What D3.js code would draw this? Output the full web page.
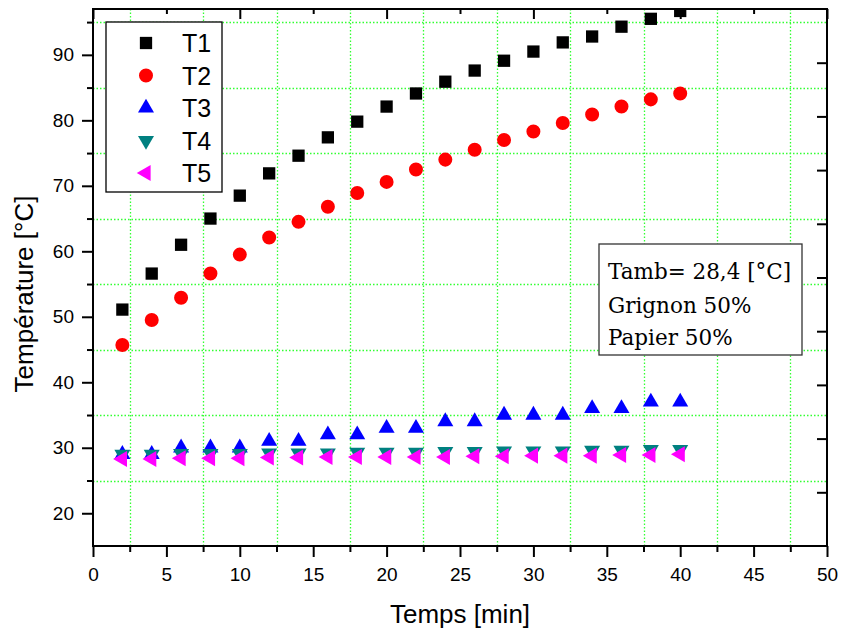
<!DOCTYPE html>
<html><head><meta charset="utf-8">
<script src="https://cdn.jsdelivr.net/npm/d3@7"></script>
<style>body{margin:0;background:#fff} svg{display:block}</style>
</head><body><svg id="c" width="842" height="631"></svg>
<script>
const time = [2,4,6,8,10,12,14,16,18,20,22,24,26,28,30,32,34,36,38,40];
const T1 = [51.1,56.6,61.0,65.0,68.5,71.9,74.6,77.4,79.8,82.1,84.1,85.9,87.6,89.1,90.5,91.9,92.8,94.3,95.5,96.7];
const T2 = [45.7,49.5,52.9,56.6,59.5,62.1,64.5,66.8,68.9,70.6,72.5,74.0,75.5,77.0,78.3,79.6,80.9,82.1,83.2,84.1];
const T3 = [29,29,30,30,30,31,31,32,32,33,33,34,34,35,35,35,36,36,37,37];
const T4 = [29.0,29.0,29.1,29.1,29.1,29.2,29.2,29.2,29.3,29.3,29.3,29.4,29.4,29.5,29.5,29.5,29.6,29.6,29.7,29.7];
const T5 = [28.3,28.3,28.4,28.4,28.4,28.5,28.5,28.6,28.6,28.6,28.6,28.6,28.7,28.7,28.8,28.8,28.8,28.9,28.9,29.0];
const seriesNames = ["T1","T2","T3","T4","T5"];
const xTicks = [0,5,10,15,20,25,30,35,40,45,50];
const xMinor = [2.5,7.5,12.5,17.5,22.5,27.5,32.5,37.5,42.5,47.5];
const yTicks = [20,30,40,50,60,70,80,90];
const yMinor = [25,35,45,55,65,75,85,95];
const xTitle = "Temps [min]";
const yTitle = "Température [°C]";
const annotation = ["Tamb= 28,4 [°C]","Grignon 50%","Papier 50%"];

const svg = d3.select("#c");
const L = 93, R = 827, T = 9, B = 546;
const x = d3.scaleLinear([0,50],[L,R]);
const y = d3.scaleLinear([15,97],[B,T]);

const styles = [
  {sym: d3.symbolSquare, size: 151, color: "#000000", rot: 0},
  {sym: d3.symbolCircle, size: 154, color: "#ff0000", rot: 0},
  {sym: d3.symbolTriangle, size: 111, color: "#0000ff", rot: 0},
  {sym: d3.symbolTriangle, size: 111, color: "#008080", rot: 180},
  {sym: d3.symbolTriangle, size: 111, color: "#ff00ff", rot: -90}
];
const series = [T1,T2,T3,T4,T5];

// grid
const g = svg.append("g");
g.selectAll(".gx").data(xMinor).join("line")
  .attr("x1", d => Math.round(x(d))+0.5).attr("x2", d => Math.round(x(d))+0.5).attr("y1", T).attr("y2", B)
  .attr("stroke", "#33ff33").attr("stroke-width", 1.3).attr("stroke-dasharray", "1.5,2");
g.selectAll(".gy").data(yMinor).join("line")
  .attr("y1", d => Math.round(y(d))+0.5).attr("y2", d => Math.round(y(d))+0.5).attr("x1", L).attr("x2", R)
  .attr("stroke", "#33ff33").attr("stroke-width", 1.3).attr("stroke-dasharray", "1.5,2");

// clip
svg.append("clipPath").attr("id","pc").append("rect").attr("x",L).attr("y",T).attr("width",R-L).attr("height",B-T);
const marks = svg.append("g").attr("clip-path","url(#pc)");
series.forEach((s, i) => {
  const st = styles[i];
  marks.append("g").selectAll("path").data(s.map((v,j)=>({t:time[j], v}))).join("path")
    .attr("d", d3.symbol(st.sym, st.size)())
    .attr("fill", st.color)
    .attr("transform", d => `translate(${x(d.t)},${y(d.v)}) rotate(${st.rot})`);
});

// axes
const font = "'Liberation Sans', Arial, sans-serif";
function styleAxis(sel) {
  sel.select(".domain").remove();
  sel.selectAll(".tick line").attr("stroke","#000").attr("stroke-width",2);
  sel.selectAll(".tick text").attr("fill","#000").style("font-family", font).style("font-size","19px");
}
svg.append("g").attr("transform",`translate(${L},0)`)
  .call(d3.axisLeft(y).tickValues(yTicks).tickSize(11).tickPadding(8)).call(styleAxis);
svg.append("g").attr("transform",`translate(${L},0)`)
  .call(d3.axisLeft(y).tickValues(yMinor).tickSize(6).tickFormat("")).call(styleAxis);
svg.append("g").attr("transform",`translate(0,${B})`)
  .call(d3.axisBottom(x).tickValues(xTicks).tickSize(11).tickPadding(11)).call(styleAxis);
svg.append("g").attr("transform",`translate(0,${B})`)
  .call(d3.axisBottom(x).tickValues(xMinor).tickSize(6).tickFormat("")).call(styleAxis);
svg.append("g").attr("transform",`translate(0,${T})`)
  .call(d3.axisTop(x).tickValues([0,10,20,30,40,50]).tickSize(-10).tickFormat("")).call(styleAxis);
svg.append("g").attr("transform",`translate(0,${T})`)
  .call(d3.axisTop(x).tickValues([5,15,25,35,45]).tickSize(-5).tickFormat("")).call(styleAxis);
const yr = d3.scaleLinear([0,10],[B,T]);
svg.append("g").attr("transform",`translate(${R},0)`)
  .call(d3.axisRight(yr).tickValues([1,2,3,4,5,6,7,8,9]).tickSize(-10).tickFormat("")).call(styleAxis);

svg.append("rect").attr("x",L).attr("y",T).attr("width",R-L).attr("height",B-T)
  .attr("fill","none").attr("stroke","#000").attr("stroke-width",2);

// titles
svg.append("text").attr("x",(L+R)/2).attr("y",623).attr("text-anchor","middle")
  .style("font-family",font).style("font-size","26px").text(xTitle);
svg.append("text").attr("transform","translate(33,294) rotate(-90)").attr("text-anchor","middle")
  .style("font-family",font).style("font-size","26px").text(yTitle);

// legend
const lg = svg.append("g");
lg.append("rect").attr("x",106).attr("y",22).attr("width",116).attr("height",170)
  .attr("fill","#fff").attr("stroke","#000").attr("stroke-width",1.3);
seriesNames.forEach((n,i) => {
  const st = styles[i];
  const cy = 43 + i*32.5;
  lg.append("path").attr("d", d3.symbol(st.sym, st.size)()).attr("fill", st.color)
    .attr("transform",`translate(146,${cy}) rotate(${st.rot})`);
  lg.append("text").attr("x",182).attr("y",cy+9).style("font-family",font).style("font-size","25px").text(n);
});

// annotation
const an = svg.append("g");
an.append("rect").attr("x",599).attr("y",244).attr("width",203).attr("height",111)
  .attr("fill","#fff").attr("stroke","#333").attr("stroke-width",1.3);
annotation.forEach((t,i) => {
  an.append("text").attr("x",608).attr("y",[279,313,345][i])
    .style("font-family","'DejaVu Serif', serif").style("font-size","21.5px").text(t);
});
</script></body></html>
